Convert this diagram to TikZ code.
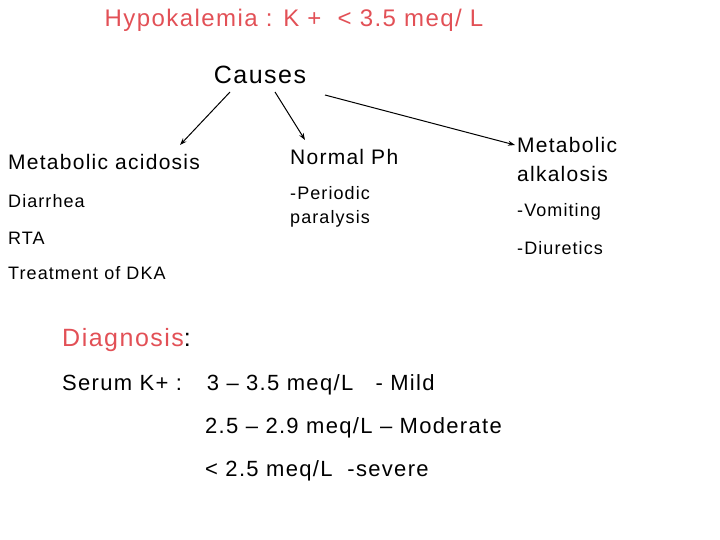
\documentclass[tikz,border=0pt]{standalone}
\usepackage{fontspec}
\usetikzlibrary{arrows.meta}
\setmainfont{Liberation Sans}[LetterSpace=6]
\definecolor{redt}{RGB}{226,80,86}
\begin{document}
\begin{tikzpicture}[x=1pt,y=-1pt,
  t/.style={anchor=west,inner sep=0pt},
  big/.style={t,font=\fontsize{21}{29}\selectfont},
  med/.style={t,font=\fontsize{18}{24}\selectfont},
  arr/.style={-{Stealth[length=7pt,width=5pt]},line width=1pt}]
\useasboundingbox (0,0) rectangle (720,540);
\node[inner sep=0pt,font=\fontsize{24}{28}\selectfont,text=redt] (title) at (294,20) {Hypokalemia : K +~ < 3.5 meq/ L};
\node[inner sep=0pt,font=\fontsize{25}{29}\selectfont] (causes) at (260,75) {Causes};
\node[big] (ma) at (8,162) {Metabolic acidosis};
\node[big] (np) at (290,157) {Normal Ph};
\node[big,align=left] (mal) at (517,159) {Metabolic\\alkalosis};
\node[med] (d) at (8,201) {Diarrhea};
\node[med,align=left] (pp) at (290,207) {-Periodic\\paralysis};
\node[med] (rta) at (8,238) {RTA};
\node[med] (v) at (517,212) {-Vomiting};
\node[med] (di) at (517,248) {-Diuretics};
\node[med] (dka) at (8,273) {Treatment of DKA};
\coordinate (a1) at (230,92); \coordinate (b1) at (180,145);
\coordinate (a2) at (275,92); \coordinate (b2) at (305,140);
\coordinate (a3) at (325,95); \coordinate (b3) at (515,145);
\draw[arr] (a1) -- (b1);
\draw[arr] (a2) -- (b2);
\draw[arr] (a3) -- (b3);
\node[t,font=\fontsize{25}{29}\selectfont] (dg) at (62,340) {\textcolor{redt}{Diagnosis}:};
\node[t,font=\fontsize{22}{26}\selectfont] (s1) at (62,385) {Serum K+ :~~ 3 – 3.5 meq/L~~ - Mild};
\node[t,font=\fontsize{22}{26}\selectfont] (s2) at (205,428) {2.5 – 2.9 meq/L – Moderate};
\node[t,font=\fontsize{22}{26}\selectfont] (s3) at (205,471) {< 2.5 meq/L~ -severe};
\end{tikzpicture}
\end{document}
